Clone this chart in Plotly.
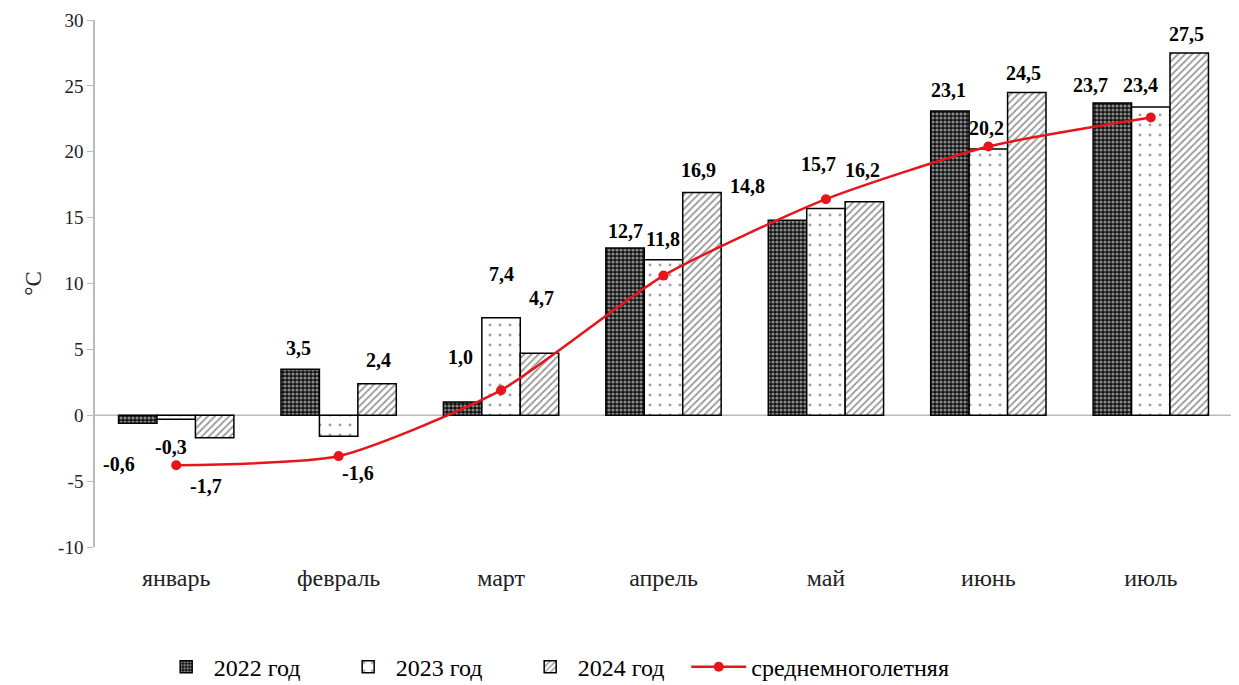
import plotly.graph_objects as go

months = ["январь", "февраль", "март", "апрель", "май", "июнь", "июль"]
t_2022 = [-0.6, 3.5, 1.0, 12.7, 14.8, 23.1, 23.7]
t_2023 = [-0.3, -1.6, 7.4, 11.8, 15.7, 20.2, 23.4]
t_2024 = [-1.7, 2.4, 4.7, 16.9, 16.2, 24.5, 27.5]
t_norm = [-3.8, -3.1, 1.9, 10.6, 16.4, 20.4, 22.6]
y_ticks = [-10, -5, 0, 5, 10, 15, 20, 25, 30]
y_ticktext = ["-10", "-5", "0", "5", "10", "15", "20", "25", "30"]

# label placement as in the source figure: (month index, value, label y, x shift px)
label_pos = [
    (0, -0.6, -3.7, -57), (0, -0.3, -2.4, -5), (0, -1.7, -5.4, 30),
    (1, 3.5, 5.1, -40), (1, -1.6, -4.4, 19), (1, 2.4, 4.2, 40),
    (2, 1.0, 4.4, -41), (2, 7.4, 10.7, 0), (2, 4.7, 8.9, 40),
    (3, 12.7, 14.0, -38), (3, 11.8, 13.4, -1), (3, 16.9, 18.6, 35),
    (4, 14.8, 17.4, -78), (4, 15.7, 19.1, -7), (4, 16.2, 18.6, 37),
    (5, 23.1, 24.7, -40), (5, 20.2, 21.8, -2), (5, 24.5, 26.0, 35),
    (6, 23.7, 25.1, -60), (6, 23.4, 25.1, -10), (6, 27.5, 28.9, 36),
]

FONT = "Liberation Serif"

fig = go.Figure()
fig.add_trace(go.Bar(
    x=months, y=t_2022, name="2022 год",
    marker=dict(color="black", line=dict(color="black", width=1.5),
                pattern=dict(shape=".", fgcolor="white", bgcolor="#111111",
                             size=4, solidity=0.5)),
))
fig.add_trace(go.Bar(
    x=months, y=t_2023, name="2023 год",
    marker=dict(color="white", line=dict(color="black", width=1.5),
                pattern=dict(shape=".", fgcolor="#444444", bgcolor="white",
                             size=10, solidity=0.07)),
))
fig.add_trace(go.Bar(
    x=months, y=t_2024, name="2024 год",
    marker=dict(color="white", line=dict(color="black", width=1.5),
                pattern=dict(shape="/", fgcolor="#333333", bgcolor="white",
                             size=5, solidity=0.35)),
))
fig.add_trace(go.Scatter(
    x=months, y=t_norm, name="среднемноголетняя",
    mode="lines+markers", legend="legend2",
    line=dict(color="#e8141b", width=2.5, shape="spline", smoothing=0.6),
    marker=dict(color="#e8141b", size=10),
))

for i, val, ly, dx in label_pos:
    fig.add_annotation(
        x=months[i], y=ly, xshift=dx,
        text=f"{val:.1f}".replace(".", ","),
        showarrow=False,
        font=dict(family=FONT, size=20, color="black", weight="bold"),
    )

legend_font = dict(family="Times New Roman, Liberation Serif, serif", size=24, color="black")
fig.update_layout(
    width=1239, height=685,
    margin=dict(l=87, r=15, t=12, b=146, autoexpand=False),
    paper_bgcolor="white", plot_bgcolor="white",
    barmode="group", bargap=0.29, bargroupgap=0,
    font=dict(family=FONT, size=18, color="#222222"),
    showlegend=True,
    legend=dict(orientation="h", x=0.056, xanchor="left", y=-0.228, yanchor="middle",
                font=legend_font, traceorder="normal", itemwidth=45,
                entrywidth=122, entrywidthmode="pixels"),
    legend2=dict(orientation="h", x=0.52, xanchor="left", y=-0.228, yanchor="middle",
                 font=legend_font, itemwidth=55),
)
fig.update_yaxes(
    range=[-10, 30], tickvals=y_ticks, ticktext=y_ticktext,
    showgrid=False, zeroline=False,
    showline=True, linecolor="#bbbbbb", linewidth=1.5,
    ticks="outside", ticklen=6, tickcolor="#bbbbbb",
    tickfont=dict(family=FONT, size=19, color="#222222"),
    title=dict(text="°C", font=dict(family=FONT, size=23, color="#222222"), standoff=10),
    automargin=False,
)
fig.update_xaxes(
    showgrid=False, showline=False, ticks="",
    tickfont=dict(family=FONT, size=24, color="#222222"),
    ticklabelstandoff=14, automargin=False,
)
fig.add_hline(y=0, line=dict(color="#bbbbbb", width=1.5), layer="below")

fig.write_html("out.html")
